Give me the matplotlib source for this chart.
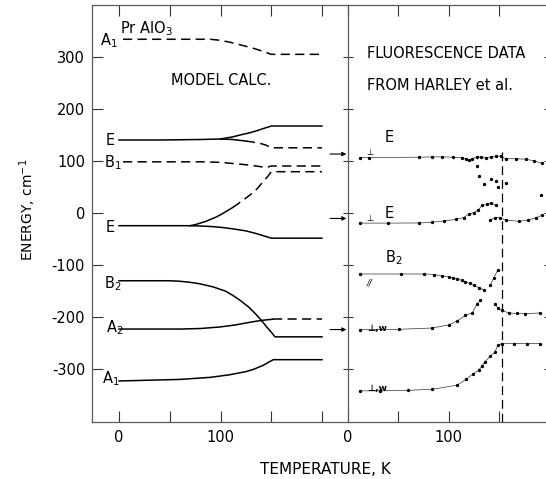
import matplotlib
matplotlib.use('Agg')
import matplotlib.pyplot as plt
import numpy as np

plt.rcParams['font.family'] = 'DejaVu Sans'
plt.rcParams['axes.unicode_minus'] = False

# ---- model calc (left panel), T in K, energy in cm^-1 ----
T_A1top = [4, 50, 90, 100, 110, 120, 130, 140, 150, 200]
E_A1top = [335, 335, 335, 333, 329, 324, 319, 313, 306, 306]

T_Eup = [0, 40, 80, 100, 106, 112, 120, 129, 136, 142, 147, 150, 200]
E_Eup = [141, 141, 142, 143, 145, 147, 151, 155, 159, 163, 166, 168, 168]
T_Eup_br_solid = [100, 112, 125]
E_Eup_br_solid = [143, 142, 139]
T_Eup_br_dash = [125, 132, 140, 145, 150, 200]
E_Eup_br_dash = [139, 137, 134, 131, 126, 126]

T_B1 = [4, 50, 83, 100, 122, 135, 145, 150, 200]
E_B1 = [99, 99, 99, 98, 94, 91, 88, 91, 91]

T_Elo = [0, 40, 70, 80, 90, 100, 112, 125, 135, 145, 150, 200]
E_Elo = [-24, -24, -24, -24.5, -25.5, -27, -30, -34, -39, -45, -48, -48]
T_Elo_br_solid = [70, 75, 80, 85, 90, 95, 100, 106, 112]
E_Elo_br_solid = [-24, -22, -19, -16, -12, -8, -3, 4, 11]
T_Elo_br_dash = [112, 120, 129, 136, 142, 147, 150, 200]
E_Elo_br_dash = [11, 22, 35, 47, 61, 72, 80, 80]

T_B2 = [0, 50, 60, 70, 80, 93, 105, 112, 119.5, 128, 135.6, 141, 145.5, 150, 153.7, 200]
E_B2 = [-130, -130, -131, -133, -136, -142, -150, -158, -168, -181, -196, -208, -219, -229, -238, -238]

T_A2 = [0, 60, 80, 99.5, 115, 126, 135, 142, 152]
E_A2 = [-223, -223, -222, -219, -215, -211, -208, -206, -204]
T_A2_dash = [152, 200]
E_A2_dash = [-204, -204]

T_A1 = [0, 60, 90, 109, 125, 132, 137, 142, 147.3, 152, 200]
E_A1 = [-323, -320, -316, -311, -305, -301, -297, -293, -287, -282, -282]

# arrows at the panel border (energies)
arrow_E = [114, -10, -224]

# ---- fluorescence data (right panel) ----
fT_Etop = [11.5, 21, 71, 84, 94, 104, 113.5, 117, 120, 123.6, 128.6, 132.5, 137, 142, 147, 152, 157, 167, 177, 185, 193]
fE_Etop = [107, 107, 108, 108.5, 108.5, 108, 107, 105, 102, 105, 108.5, 108.5, 107, 108.5, 110, 110, 105, 105, 104, 101, 96]
fT_Ebr = [128.4, 130.7, 135, 142.5, 147, 149, 157, 192]
fE_Ebr = [91, 71, 57, 65, 62, 51, 58, 35]

fT_Elo = [11.5, 40, 71, 84, 95.6, 107, 115, 120, 125, 129.4, 133.4, 138, 142.5, 147]
fE_Elo = [-19, -19, -18.7, -17.3, -14.8, -12, -8.3, -2, 1, 6, 15, 17, 20, 15]
fT_Elo2 = [141.5, 146.3, 151, 157, 170, 179, 187.5, 193]
fE_Elo2 = [-13.5, -8.3, -8.3, -13.5, -15.4, -13.5, -8.3, -4]

fT_B2 = [11.5, 53, 76, 86, 94, 100, 104, 108.6, 113, 116.9, 121, 125, 130, 135]
fE_B2 = [-117, -117, -117, -118, -121, -122, -124, -127, -129, -132, -135, -139, -143, -148]
fT_B2b = [141.5, 145, 148.8]
fE_B2b = [-139, -125, -110]

fT_A2 = [11.5, 51, 84, 100, 108.6, 116.9, 123.4, 128.4, 131.7]
fE_A2 = [-224, -223.5, -221, -215, -207.5, -196.5, -192, -175, -167.6]
fT_A2b = [145.8, 149, 153, 160, 168, 176, 190.8]
fE_A2b = [-174, -182, -187, -192, -193, -193.5, -192]

fT_A1 = [11.5, 31.5, 60, 84, 108.6, 117.5, 124, 130, 133, 136, 141.5, 146.3, 149, 153, 165, 178, 190.7]
fE_A1 = [-342, -342, -341, -339, -331, -320, -310, -302.5, -295, -286.5, -275.5, -267, -254, -251, -251, -251, -251]

T_c = 153  # transition, vertical dashed line

fig = plt.figure(figsize=(5.46, 4.79), dpi=100)
ax1 = fig.add_axes([92/546, 1-422/479, 256/546, 417/479])
ax2 = fig.add_axes([348/546, 1-422/479, 201/546, 417/479])
ax2.set_facecolor('none')

lw = 1.1
dash = (0, (6, 3.5))
k = 'black'
ax1.plot(T_A1top, E_A1top, color=k, lw=lw, ls=dash)
ax1.plot(T_Eup, E_Eup, color=k, lw=lw)
ax1.plot(T_Eup_br_solid, E_Eup_br_solid, color=k, lw=lw)
ax1.plot(T_Eup_br_dash, E_Eup_br_dash, color=k, lw=lw, ls=dash)
ax1.plot(T_B1, E_B1, color=k, lw=lw, ls=dash)
ax1.plot(T_Elo, E_Elo, color=k, lw=lw)
ax1.plot(T_Elo_br_solid, E_Elo_br_solid, color=k, lw=lw)
ax1.plot(T_Elo_br_dash, E_Elo_br_dash, color=k, lw=lw, ls=dash)
ax1.plot(T_B2, E_B2, color=k, lw=lw)
ax1.plot(T_A2, E_A2, color=k, lw=lw)
ax1.plot(T_A2_dash, E_A2_dash, color=k, lw=lw, ls=dash)
ax1.plot(T_A1, E_A1, color=k, lw=lw)

for e in arrow_E:
    ax1.annotate('', xy=(224, e), xytext=(208, e), annotation_clip=False,
                 arrowprops=dict(arrowstyle='-|>', lw=0.8, color=k, mutation_scale=6,
                                 shrinkA=0, shrinkB=0))

fs = 10.5
ax1.text(1, 347, 'Pr AlO$_3$', ha='left', va='baseline', fontsize=fs)
ax1.text(-1, 324, 'A$_1$', ha='right', va='baseline', fontsize=fs)
ax1.text(100.5, 247, 'MODEL CALC.', ha='center', va='baseline', fontsize=fs)
ax1.text(-4, 131, 'E', ha='right', va='baseline', fontsize=fs)
ax1.text(3, 88, 'B$_1$', ha='right', va='baseline', fontsize=fs)
ax1.text(-4, -37, 'E', ha='right', va='baseline', fontsize=fs)
ax1.text(3, -144, 'B$_2$', ha='right', va='baseline', fontsize=fs)
ax1.text(4, -229, 'A$_2$', ha='right', va='baseline', fontsize=fs)
ax1.text(1, -327, 'A$_1$', ha='right', va='baseline', fontsize=fs)

# fluorescence data
dl = dict(color='0.2', lw=0.5, marker='o', ms=1.4, mfc=k, mec=k)
ax2.plot(fT_Etop, fE_Etop, **dl)
ax2.plot(fT_Ebr, fE_Ebr, 'o', ms=1.4, color=k)
ax2.plot(fT_Elo, fE_Elo, **dl)
ax2.plot(fT_Elo2, fE_Elo2, **dl)
ax2.plot(fT_B2, fE_B2, **dl)
ax2.plot(fT_B2b, fE_B2b, **dl)
ax2.plot(fT_A2, fE_A2, **dl)
ax2.plot(fT_A2b, fE_A2b, **dl)
ax2.plot(fT_A1, fE_A1, **dl)
ax2.plot([T_c, T_c], [118, -402], color=k, lw=0.9, ls=(0, (7, 4)))

ax2.text(18.7, 299, 'FLUORESCENCE DATA', ha='left', va='baseline', fontsize=fs)
ax2.text(18.7, 237, 'FROM HARLEY et al.', ha='left', va='baseline', fontsize=fs)
ax2.text(36.5, 137, 'E', ha='left', va='baseline', fontsize=fs)
ax2.text(36.5, -10, 'E', ha='left', va='baseline', fontsize=fs)
ax2.text(36.5, -94, 'B$_2$', ha='left', va='baseline', fontsize=fs)
ax2.text(21.7, 112, '\u22a5', ha='center', va='baseline', fontsize=6)
ax2.text(21.7, -14, '\u22a5', ha='center', va='baseline', fontsize=6)
ax2.text(21, -139, '//', ha='center', va='baseline', fontsize=6, style='italic')
ax2.text(18.7, -226, '\u22a5,w', ha='left', va='baseline', fontsize=6.5, fontweight='bold')
ax2.text(18.7, -343, '\u22a5,w', ha='left', va='baseline', fontsize=6.5, fontweight='bold')

ylim = (-402, 401)
ax1.set_xlim(-26.6, 225.6)
ax2.set_xlim(0, 198)
for ax in (ax1, ax2):
    ax.set_ylim(*ylim)
    ax.set_xticks([0, 50, 100, 150, 200])
    ax.set_xticklabels(['0', '', '100', '', ''])
    ax.set_yticks([-300, -200, -100, 0, 100, 200, 300])
    for s in ax.spines.values():
        s.set_color('0.35')
        s.set_linewidth(0.9)
    ax.tick_params(axis='x', direction='in', length=8, top=True, labelsize=fs, pad=6, color='0.2')

ax1.spines['right'].set_visible(False)
ax1.tick_params(axis='y', direction='in', length=8, left=True, right=False, labelsize=fs, pad=5, color='0.2')
ax2.tick_params(axis='y', direction='inout', length=7, left=True, right=True, labelleft=False, color='0.2')

fig.text(325/546, 1-470/479, 'TEMPERATURE, K', ha='center', va='center', fontsize=11)
fig.text(28/546, 1-210/479, 'ENERGY, cm$^{-1}$', ha='center', va='center', rotation=90, fontsize=10)

fig.savefig('out.png', dpi=100)
